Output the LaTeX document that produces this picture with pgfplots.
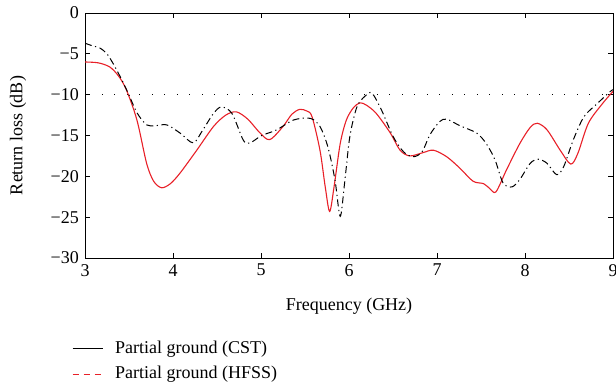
\documentclass[border=0pt]{standalone}
\usepackage{pgfplots}
\pgfplotsset{compat=1.18}
\usepackage{fontspec}
\setmainfont{Liberation Serif}
\definecolor{myred}{RGB}{232,32,40}
\begin{document}
\fontsize{18bp}{21bp}\selectfont
\begin{tikzpicture}
\begin{axis}[
  name=ax,
  scale only axis,
  width=528bp, height=245bp,
  xmin=3, xmax=9, ymin=-30, ymax=0,
  xtick={3,4,5,6,7,8,9},
  ytick={-30,-25,-20,-15,-10,-5,0},
  yticklabels={−30,−25,−20,−15,−10,−5,0},
  tick align=inside,
  major tick length=5bp,
  axis line style={line width=0.9bp},
  every tick/.style={black, line width=0.8bp},
  /pgf/number format/assume math mode=true,
  tick label style={font=\fontsize{18bp}{21bp}\selectfont},
  label style={font=\fontsize{18bp}{21bp}\selectfont},
  xlabel={Frequency (GHz)},
  ylabel={Return loss (dB)},
  xlabel style={at={(axis description cs:0.5,0)}, anchor=center, yshift=-48bp},
  ylabel style={at={(axis description cs:-0.1269,0.5)}, anchor=center},
  legend cell align=left,
  legend style={at={(axis description cs:0,0)}, anchor=north west, xshift=-13bp, yshift=-81bp,
    draw=none, fill=none, inner sep=0pt, row sep=6bp, column sep=10bp, font=\fontsize{18bp}{21bp}\selectfont},
]
\addplot[forget plot, black, line width=0.8bp, dash pattern=on 1bp off 11.5bp] coordinates {(3.05,-10) (9,-10)};
\addplot[forget plot, myred, line width=1.1bp, smooth, tension=0.5] coordinates {
(3,-6.0)(3.15,-6.1)(3.28,-6.6)(3.38,-7.7)(3.47,-9.4)(3.59,-13.1)(3.70,-18.4)(3.78,-20.6)(3.87,-21.4)(3.97,-20.9)(4.08,-19.6)(4.27,-16.8)(4.46,-13.9)(4.60,-12.5)(4.72,-12.1)(4.85,-13.0)(4.99,-14.7)(5.10,-15.5)(5.25,-13.9)(5.35,-12.4)(5.44,-11.8)(5.52,-12.0)(5.58,-12.7)(5.67,-16.8)(5.73,-21.3)(5.78,-24.3)(5.83,-21.3)(5.90,-16.0)(5.97,-13.1)(6.05,-11.6)(6.125,-11.0)(6.2,-11.3)(6.31,-12.3)(6.47,-14.7)(6.58,-16.8)(6.69,-17.5)(6.84,-17.1)(6.96,-16.8)(7.11,-17.6)(7.26,-19.0)(7.41,-20.6)(7.53,-20.9)(7.60,-21.5)(7.67,-21.9)(7.79,-19.2)(7.94,-16.0)(8.06,-14.0)(8.14,-13.5)(8.25,-14.3)(8.40,-16.8)(8.52,-18.5)(8.60,-17.2)(8.72,-13.5)(8.88,-11.1)(9,-9.6)};
\addplot[forget plot, black, line width=1.0bp, smooth, tension=0.5, dash pattern=on 7bp off 3.5bp on 1.2bp off 3.5bp] coordinates {
(3,-3.7)(3.08,-4.0)(3.17,-4.3)(3.25,-5.0)(3.32,-6.2)(3.40,-7.8)(3.49,-9.8)(3.59,-12.2)(3.70,-13.7)(3.80,-13.8)(3.93,-13.7)(4.08,-14.7)(4.23,-15.9)(4.34,-14.3)(4.46,-12.3)(4.55,-11.5)(4.67,-12.3)(4.80,-15.6)(4.875,-15.9)(4.99,-15.1)(5.03,-14.9)(5.18,-14.3)(5.37,-13.1)(5.56,-12.9)(5.67,-13.9)(5.76,-16.4)(5.84,-20.4)(5.90,-24.9)(5.95,-20.8)(6.01,-15.1)(6.09,-11.5)(6.18,-10.2)(6.26,-9.8)(6.37,-11.9)(6.50,-15.1)(6.62,-17.0)(6.73,-17.6)(6.83,-17.0)(6.92,-14.9)(7.03,-13.3)(7.11,-13.0)(7.26,-13.8)(7.45,-14.7)(7.56,-16.0)(7.66,-18.0)(7.75,-20.8)(7.85,-21.3)(7.94,-20.4)(8.06,-18.4)(8.15,-17.9)(8.25,-18.4)(8.36,-19.8)(8.44,-18.8)(8.55,-15.5)(8.67,-12.7)(8.82,-11.1)(8.97,-9.6)(9,-9.4)};
\addlegendimage{legend image code/.code={\draw[black, line width=0.9bp] (0bp,0bp) -- (30bp,0bp);}}
\addlegendentry{Partial ground (CST)}
\addlegendimage{legend image code/.code={\draw[myred, line width=0.9bp, dash pattern=on 6bp off 5bp] (0bp,0bp) -- (30bp,0bp);}}
\addlegendentry{Partial ground (HFSS)}
\end{axis}
\pgfresetboundingbox
\path[use as bounding box] ([xshift=-85bp,yshift=-130bp]ax.south west) rectangle ([xshift=3bp,yshift=13bp]ax.north east);
\end{tikzpicture}
\end{document}
